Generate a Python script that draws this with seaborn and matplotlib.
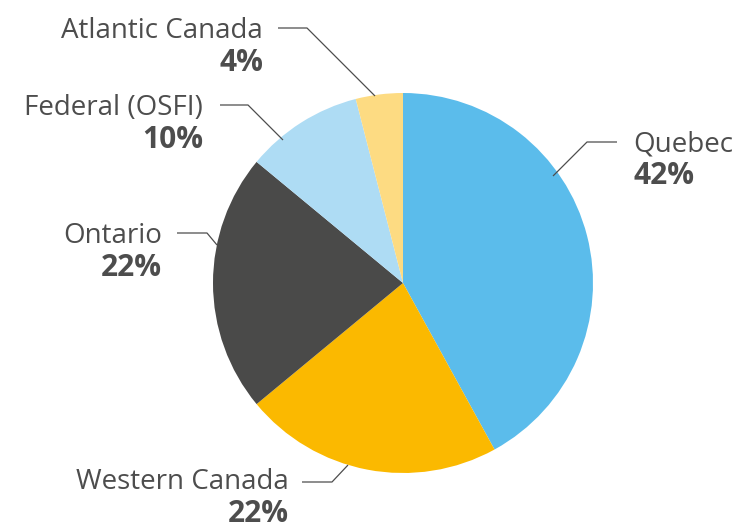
import matplotlib
matplotlib.use("Agg")
import matplotlib.pyplot as plt
import seaborn as sns

# Share of regulated entities by jurisdiction
regions = ["Quebec", "Western Canada", "Ontario", "Federal (OSFI)", "Atlantic Canada"]
shares = [42, 22, 22, 10, 4]
colors = ["#5BBCEB", "#FBB900", "#4A4A49", "#AEDCF4", "#FDDB82"]

# Label layout in pixel space (x, baseline y from top), alignment, and leader path
label_pos = [(633, 151), (289, 489), (162, 243), (203, 115), (263, 38)]
label_ha = ["left", "right", "right", "right", "right"]
leaders = [
    [(617, 142), (587, 142), (553, 176)],
    [(302, 482), (332, 482), (348, 465)],
    [(177, 233), (207, 233), (217, 245)],
    [(220, 105), (248, 105), (283, 140)],
    [(278, 28), (307, 28), (375, 96)],
]

sns.set_theme(style="white")
plt.rcParams["font.family"] = ["Open Sans", "DejaVu Sans"]

W, H = 742, 530
fig = plt.figure(figsize=(W / 100, H / 100), dpi=100)
ax = fig.add_axes([0, 0, 1, 1])

cx, cy, r = 403, H - 283, 190
ax.pie(shares, colors=colors, startangle=90, counterclock=False,
       center=(cx, cy), radius=r, frame=True,
       wedgeprops=dict(linewidth=0))
ax.set_xlim(0, W)
ax.set_ylim(0, H)
ax.set_aspect("equal")
ax.axis("off")

text_color = "#4D4D4D"
for name, val, (lx, ly), ha, path in zip(regions, shares, label_pos, label_ha, leaders):
    xs = [p[0] for p in path]
    ys = [H - p[1] for p in path]
    ax.plot(xs, ys, color="#4D4D4D", lw=0.9, solid_capstyle="butt")
    ax.text(lx, H - ly, name, ha=ha, va="baseline", fontsize=20, color=text_color)
    ax.text(lx, H - ly - 33, f"{val}%", ha=ha, va="baseline", fontsize=21.5,
            fontweight="bold", color=text_color)

fig.savefig("out.png", dpi=100)
